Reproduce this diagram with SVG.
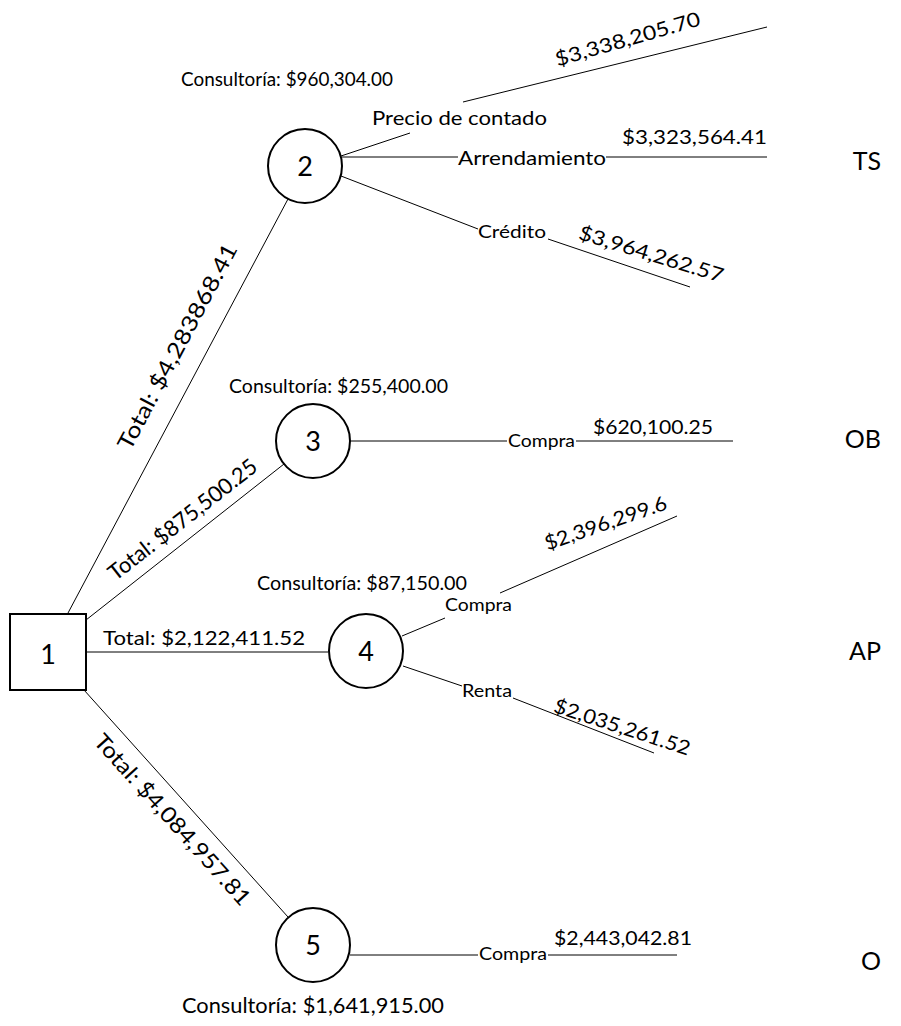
<svg xmlns="http://www.w3.org/2000/svg" width="901" height="1026" viewBox="0 0 901 1026">
  <style>
    text { font-family: Lato, "Open Sans", "Liberation Sans", sans-serif; fill: #000; }
    .shape { fill: #fff; stroke: #000; stroke-width: 2; }
    #connectors line { stroke: #000; stroke-width: 1; }
    .num { font-size: 27px; text-anchor: middle; }
    .lbl { font-size: 20px; }
    .cost { font-size: 19.5px; }
    .big { font-size: 22px; }
    .sm { font-size: 17.5px; }
    .tag { font-size: 25px; text-anchor: end; }
    .mid { text-anchor: middle; }
  </style>

  <!-- branches of the decision tree -->
  <g id="connectors">
    <line x1="68" y1="613" x2="288" y2="199"/>
    <line x1="86" y1="620" x2="284" y2="464"/>
    <line x1="86" y1="652" x2="328" y2="652"/>
    <line x1="84" y1="690" x2="288" y2="917"/>

    <line x1="341" y1="156" x2="410" y2="133"/>
    <line x1="463" y1="102" x2="767" y2="27"/>
    <line x1="342" y1="157" x2="458" y2="157"/>
    <line x1="606" y1="157" x2="767" y2="157"/>
    <line x1="341" y1="176" x2="478" y2="229"/>
    <line x1="548" y1="239" x2="690" y2="287"/>

    <line x1="350" y1="441" x2="507" y2="441"/>
    <line x1="576" y1="441" x2="733" y2="441"/>

    <line x1="402" y1="636" x2="445" y2="618"/>
    <line x1="500" y1="593" x2="677" y2="516"/>
    <line x1="403" y1="666" x2="462" y2="686"/>
    <line x1="513" y1="698" x2="654" y2="753"/>

    <line x1="350" y1="955" x2="478" y2="955"/>
    <line x1="548" y1="955" x2="677" y2="955"/>

    <!-- totals carried by each first-level branch -->
    <text class="big mid" transform="translate(178,347) rotate(-62)" y="7" textLength="230" lengthAdjust="spacingAndGlyphs">Total: $4,283868.41</text>
    <text class="big mid" transform="translate(183,520) rotate(-38)" y="7" textLength="182" lengthAdjust="spacingAndGlyphs">Total: $875,500.25</text>
    <text class="lbl" x="103" y="645" textLength="202" lengthAdjust="spacingAndGlyphs">Total: $2,122,411.52</text>
    <text class="big mid" transform="translate(172,820) rotate(48)" y="7" textLength="222" lengthAdjust="spacingAndGlyphs">Total: $4,084,957.81</text>

    <!-- outcomes of node 2 -->
    <text class="lbl" x="372" y="125" textLength="175" lengthAdjust="spacingAndGlyphs">Precio de contado</text>
    <text class="lbl mid" transform="translate(628,40) rotate(-16)" y="6" textLength="150" lengthAdjust="spacingAndGlyphs">$3,338,205.70</text>
    <text class="lbl" x="458" y="165" textLength="148" lengthAdjust="spacingAndGlyphs">Arrendamiento</text>
    <text class="lbl" x="622" y="144" textLength="145" lengthAdjust="spacingAndGlyphs">$3,323,564.41</text>
    <text class="sm" x="478" y="238" textLength="68" lengthAdjust="spacingAndGlyphs">Crédito</text>
    <text class="lbl mid" transform="translate(651,255) rotate(17)" y="6" textLength="150" lengthAdjust="spacingAndGlyphs">$3,964,262.57</text>

    <!-- outcome of node 3 -->
    <text class="sm" x="508" y="447" textLength="67" lengthAdjust="spacingAndGlyphs">Compra</text>
    <text class="lbl" x="593" y="434" textLength="120" lengthAdjust="spacingAndGlyphs">$620,100.25</text>

    <!-- outcomes of node 4 -->
    <text class="sm" x="445" y="611" textLength="67" lengthAdjust="spacingAndGlyphs">Compra</text>
    <text class="lbl mid" transform="translate(606,524) rotate(-19)" y="6" textLength="128" lengthAdjust="spacingAndGlyphs">$2,396,299.6</text>
    <text class="sm" x="462" y="697" textLength="50" lengthAdjust="spacingAndGlyphs">Renta</text>
    <text class="lbl mid" transform="translate(622,728) rotate(18)" y="6" textLength="142" lengthAdjust="spacingAndGlyphs">$2,035,261.52</text>

    <!-- outcome of node 5 -->
    <text class="sm" x="479" y="960" textLength="68" lengthAdjust="spacingAndGlyphs">Compra</text>
    <text class="lbl" x="554" y="945" textLength="138" lengthAdjust="spacingAndGlyphs">$2,443,042.81</text>
  </g>

  <!-- decision node -->
  <g id="node1">
    <rect class="shape" x="10" y="614" width="76" height="76"/>
    <text class="num" x="48" y="664">1</text>
  </g>

  <!-- chance nodes with their consulting cost -->
  <g id="node2">
    <circle class="shape" cx="305" cy="166" r="37"/>
    <text class="num" x="305" y="176">2</text>
    <text class="cost" x="181" y="86" textLength="212" lengthAdjust="spacingAndGlyphs">Consultoría: $960,304.00</text>
  </g>
  <g id="node3">
    <circle class="shape" cx="313" cy="441" r="37"/>
    <text class="num" x="313" y="451">3</text>
    <text class="cost" x="229" y="393" textLength="219" lengthAdjust="spacingAndGlyphs">Consultoría: $255,400.00</text>
  </g>
  <g id="node4">
    <circle class="shape" cx="366" cy="651" r="37"/>
    <text class="num" x="366" y="661">4</text>
    <text class="cost" x="257" y="590" textLength="210" lengthAdjust="spacingAndGlyphs">Consultoría: $87,150.00</text>
  </g>
  <g id="node5">
    <circle class="shape" cx="313" cy="945" r="37"/>
    <text class="num" x="313" y="955">5</text>
    <text class="big" x="182" y="1013" textLength="262" lengthAdjust="spacingAndGlyphs">Consultoría: $1,641,915.00</text>
  </g>

  <!-- row tags -->
  <g id="tags">
    <text class="tag" x="881" y="170">TS</text>
    <text class="tag" x="881" y="448">OB</text>
    <text class="tag" x="881" y="660">AP</text>
    <text class="tag" x="881" y="970">O</text>
  </g>
</svg>
